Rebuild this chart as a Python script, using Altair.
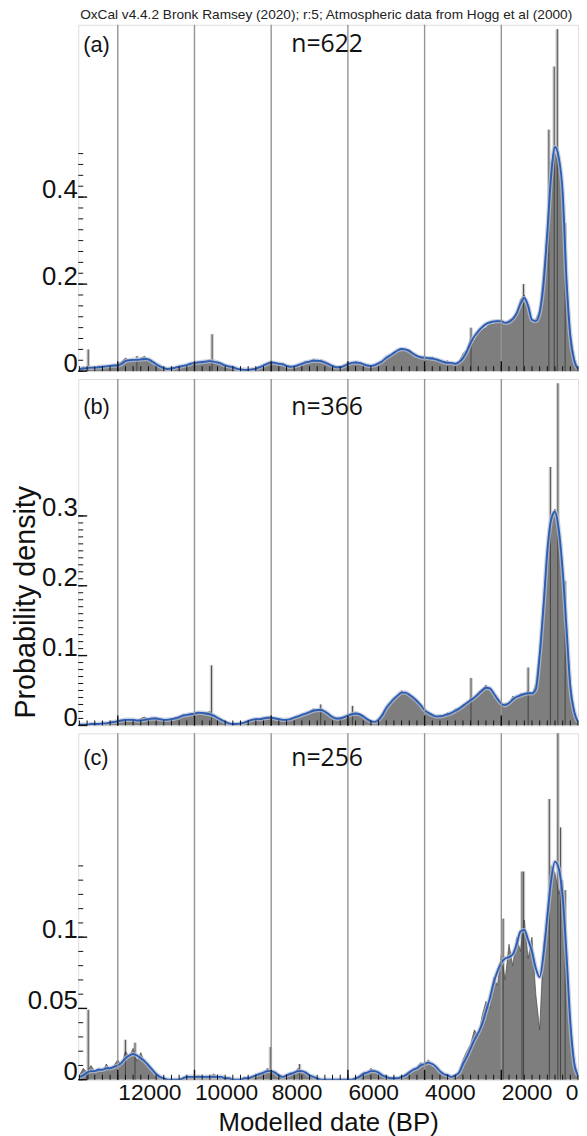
import altair as alt
import pandas as pd

FONT = "Liberation Sans"
W, H = 505, 350
X_MAX = 13030
TITLE = "OxCal v4.4.2 Bronk Ramsey (2020); r:5; Atmospheric data from Hogg et al (2000)"

# 100-year grid, from 13000 BP down to 0 BP
years = list(range(13000, -1, -100))

# ---------------- panel (a) ----------------
kde_a = [0.005,0.006,0.007,0.008,0.008,0.009,0.010,0.011,0.012,0.013,
         0.013,0.017,0.023,0.025,0.026,0.026,0.027,0.028,0.027,0.022,
         0.016,0.011,0.007,0.005,0.006,0.008,0.010,0.012,0.014,0.017,
         0.019,0.020,0.021,0.022,0.023,0.022,0.020,0.017,0.013,0.011,
         0.009,0.006,0.004,0.003,0.003,0.004,0.006,0.009,0.013,0.017,
         0.020,0.019,0.017,0.016,0.012,0.010,0.011,0.014,0.017,0.020,
         0.022,0.024,0.024,0.023,0.020,0.016,0.012,0.009,0.009,0.012,
         0.016,0.019,0.020,0.019,0.016,0.013,0.012,0.014,0.018,0.023,
         0.031,0.036,0.042,0.048,0.051,0.050,0.046,0.040,0.035,0.032,
         0.031,0.030,0.029,0.027,0.024,0.021,0.019,0.019,0.017,0.021,
         0.030,0.045,0.065,0.080,0.092,0.101,0.108,0.112,0.114,0.115,
         0.115,0.111,0.113,0.120,0.133,0.155,0.168,0.150,0.118,0.115,
         0.135,0.200,0.320,0.450,0.515,0.490,0.410,0.210,0.080,0.025,0.005]
sum_a = [0.004,0.010,0.006,0.008,0.007,0.012,0.009,0.011,0.010,0.014,
         0.016,0.022,0.030,0.024,0.028,0.022,0.030,0.034,0.026,0.018,
         0.012,0.008,0.006,0.004,0.006,0.009,0.008,0.012,0.015,0.016,
         0.018,0.022,0.019,0.024,0.026,0.020,0.018,0.015,0.012,0.010,
         0.008,0.006,0.004,0.004,0.003,0.005,0.007,0.010,0.014,0.016,
         0.024,0.018,0.016,0.014,0.012,0.011,0.010,0.014,0.016,0.022,
         0.020,0.028,0.022,0.026,0.018,0.014,0.010,0.008,0.010,0.012,
         0.018,0.016,0.022,0.018,0.014,0.012,0.010,0.013,0.020,0.024,
         0.028,0.034,0.044,0.046,0.052,0.048,0.050,0.042,0.036,0.030,
         0.030,0.028,0.032,0.026,0.022,0.020,0.024,0.016,0.018,0.022,
         0.040,0.050,0.075,0.070,0.088,0.095,0.100,0.110,0.108,0.118,
         0.112,0.108,0.118,0.122,0.135,0.165,0.175,0.145,0.112,0.120,
         0.140,0.230,0.320,0.480,0.500,0.470,0.380,0.220,0.090,0.030,0.005]
spike_a_years = [12770, 11500, 9540, 2790, 1420, 760, 620, 540, 335]
spike_a_vals = [0.050, 0.035, 0.085, 0.100, 0.200, 0.555, 0.700, 0.786, 0.340]

# ---------------- panel (b) ----------------
kde_b = [0.001,0.001,0.001,0.002,0.002,0.002,0.003,0.003,0.004,0.005,
         0.006,0.007,0.008,0.008,0.008,0.007,0.007,0.008,0.009,0.010,
         0.010,0.009,0.008,0.008,0.009,0.010,0.012,0.014,0.015,0.016,
         0.017,0.018,0.018,0.017,0.016,0.014,0.011,0.008,0.005,0.003,
         0.002,0.002,0.003,0.004,0.006,0.008,0.009,0.009,0.010,0.011,
         0.011,0.010,0.009,0.008,0.008,0.009,0.011,0.013,0.015,0.017,
         0.019,0.021,0.022,0.022,0.020,0.016,0.012,0.010,0.010,0.012,
         0.014,0.016,0.017,0.016,0.013,0.009,0.006,0.005,0.008,0.015,
         0.025,0.032,0.038,0.043,0.047,0.047,0.044,0.040,0.035,0.029,
         0.022,0.018,0.015,0.013,0.013,0.014,0.016,0.018,0.021,0.024,
         0.028,0.032,0.036,0.040,0.045,0.050,0.054,0.053,0.046,0.038,
         0.031,0.029,0.032,0.037,0.041,0.043,0.045,0.046,0.046,0.052,
         0.100,0.170,0.250,0.295,0.306,0.280,0.222,0.140,0.055,0.020,0.005]
sum_b = [0.000,0.001,0.001,0.002,0.001,0.002,0.003,0.002,0.004,0.005,
         0.006,0.008,0.007,0.009,0.007,0.006,0.010,0.012,0.008,0.010,
         0.011,0.008,0.007,0.009,0.008,0.012,0.011,0.016,0.014,0.017,
         0.016,0.020,0.017,0.018,0.020,0.013,0.010,0.008,0.006,0.003,
         0.002,0.003,0.002,0.005,0.007,0.006,0.010,0.008,0.011,0.010,
         0.013,0.009,0.010,0.007,0.009,0.008,0.012,0.011,0.016,0.015,
         0.020,0.024,0.020,0.025,0.018,0.017,0.011,0.009,0.012,0.011,
         0.016,0.014,0.019,0.015,0.012,0.008,0.005,0.006,0.010,0.018,
         0.026,0.030,0.040,0.042,0.050,0.045,0.046,0.038,0.036,0.026,
         0.020,0.019,0.014,0.012,0.015,0.013,0.018,0.016,0.024,0.022,
         0.030,0.028,0.040,0.036,0.048,0.052,0.058,0.050,0.044,0.036,
         0.028,0.032,0.030,0.042,0.038,0.046,0.042,0.050,0.044,0.060,
         0.110,0.180,0.240,0.300,0.310,0.270,0.210,0.130,0.060,0.020,0.004]
spike_b_years = [9556, 6710, 5880, 2790, 1300, 720, 525, 335]
spike_b_vals = [0.086, 0.030, 0.028, 0.068, 0.083, 0.370, 0.490, 0.207]

# ---------------- panel (c) ----------------
kde_c = [0.002,0.003,0.005,0.006,0.006,0.007,0.007,0.008,0.008,0.009,
         0.010,0.012,0.015,0.017,0.018,0.017,0.015,0.013,0.010,0.007,
         0.004,0.002,0.001,0.000,0.000,0.000,0.000,0.001,0.002,0.002,
         0.002,0.002,0.002,0.002,0.002,0.002,0.002,0.002,0.001,0.001,
         0.000,0.000,0.000,0.001,0.001,0.002,0.003,0.004,0.005,0.006,
         0.006,0.005,0.003,0.002,0.003,0.004,0.005,0.006,0.006,0.005,
         0.003,0.002,0.001,0.000,0.000,0.000,0.000,0.000,0.000,0.000,
         0.000,0.000,0.001,0.002,0.004,0.005,0.006,0.006,0.005,0.003,
         0.002,0.001,0.001,0.001,0.002,0.003,0.005,0.007,0.008,0.010,
         0.011,0.012,0.011,0.009,0.006,0.004,0.003,0.002,0.003,0.005,
         0.011,0.016,0.022,0.028,0.033,0.039,0.048,0.057,0.068,0.076,
         0.082,0.085,0.086,0.088,0.095,0.104,0.105,0.098,0.090,0.078,
         0.072,0.088,0.115,0.140,0.153,0.148,0.128,0.088,0.040,0.012,0.003]
sum_c = [0.003,0.008,0.005,0.010,0.006,0.008,0.005,0.011,0.007,0.010,
         0.014,0.010,0.020,0.016,0.022,0.013,0.019,0.012,0.011,0.006,
         0.004,0.002,0.001,0.000,0.000,0.000,0.000,0.001,0.002,0.001,
         0.002,0.003,0.002,0.001,0.002,0.004,0.002,0.001,0.000,0.001,
         0.000,0.000,0.000,0.001,0.001,0.001,0.002,0.003,0.004,0.008,
         0.006,0.004,0.002,0.001,0.003,0.005,0.004,0.008,0.005,0.004,
         0.002,0.001,0.000,0.000,0.000,0.000,0.000,0.000,0.000,0.000,
         0.000,0.000,0.001,0.003,0.005,0.004,0.008,0.006,0.005,0.002,
         0.001,0.000,0.001,0.001,0.002,0.004,0.006,0.006,0.009,0.012,
         0.010,0.014,0.009,0.008,0.005,0.003,0.004,0.002,0.003,0.006,
         0.014,0.020,0.025,0.035,0.030,0.045,0.055,0.050,0.072,0.066,
         0.088,0.070,0.095,0.080,0.100,0.090,0.112,0.085,0.100,0.060,
         0.035,0.095,0.110,0.150,0.145,0.130,0.140,0.080,0.040,0.012,0.002]
spike_c_years = [12770, 11800, 11550, 8020, 7260, 1953, 1460, 1420, 748, 525, 457, 335]
spike_c_vals = [0.049, 0.028, 0.026, 0.023, 0.011, 0.113, 0.146, 0.146, 0.197, 0.245, 0.177, 0.133]

# ---------------- axes ----------------
grid_years = [12000, 10000, 8000, 6000, 4000, 2000]
x_minor = list(range(0, 13001, 200))
x_label_values = [12000, 10000, 8000, 6000, 4000, 2000, 0]

XSCALE = alt.Scale(domain=[0, X_MAX], reverse=True, nice=False, zero=False)


def xenc(show):
    if show:
        ax = alt.Axis(values=x_label_values, format="d", ticks=False, domain=False, grid=False,
                      labelFontSize=23, labelFont=FONT, labelColor="#111", labelPadding=2,
                      labelBaseline="top",
                      labelAlign={"condition": {"test": "datum.value == 0", "value": "right"},
                                  "value": "left"},
                      labelFlush=False, labelOverlap=False, labelBound=False,
                      title="Modelled date (BP)", titleFont=FONT, titleFontSize=26,
                      titleFontWeight="normal", titleColor="#111", titlePadding=5)
        return alt.X("year:Q", scale=XSCALE, axis=ax)
    return alt.X("year:Q", scale=XSCALE, axis=None)


def make_yenc(ymax, labels, show_title):
    common = dict(values=labels, format="~g", ticks=False, domain=False, grid=False,
                  labelFontSize=26, labelFont=FONT, labelColor="#111", labelPadding=1,
                  labelBaseline="alphabetic", minExtent=70)
    if show_title:
        ax = alt.Axis(title="Probability density", titleFont=FONT, titleFontSize=29,
                      titleFontWeight="normal", titleColor="#111",
                      titleAngle=270, titleX=-53, titleY=H / 2 + 50,
                      titleAlign="center", titleBaseline="middle", **common)
    else:
        ax = alt.Axis(title=None, **common)

    def f(field):
        return alt.Y(f"{field}:Q", scale=alt.Scale(domain=[0, ymax], nice=False, zero=True), axis=ax)
    return f


def panel(tag, ntext, kde, sm, sp_years, sp_vals, ymax, ylabels, yticks, text_y, show_x, show_title, title=None):
    df = pd.DataFrame({"year": years, "sum": sm, "kde": kde})
    sp = pd.DataFrame({"year": sp_years, "top": sp_vals})
    X = xenc(show_x)
    Y = make_yenc(ymax, ylabels, show_title)

    light = alt.Chart(sp).mark_rule(color="#cccccc", strokeWidth=3.5, clip=True).encode(
        x=X, y=Y("top"), y2=alt.value(H))
    area = alt.Chart(df).mark_area(color="#7e7e7e", opacity=1, clip=True,
                                   line={"color": "#3a3a3a", "strokeWidth": 0.6}).encode(x=X, y=Y("sum"))
    spk = alt.Chart(sp).mark_rule(color="#333333", strokeWidth=0.8, clip=True).encode(
        x=X, y=Y("top"), y2=alt.value(H))
    band = alt.Chart(df).mark_line(color="#b7c2dc", strokeWidth=4.5, opacity=0.7,
                                   interpolate="monotone", clip=True).encode(x=X, y=Y("kde"))
    line = alt.Chart(df).mark_line(color="#2c5db3", strokeWidth=1.9,
                                   interpolate="monotone", clip=True).encode(x=X, y=Y("kde"))
    grid = alt.Chart(pd.DataFrame({"year": grid_years})).mark_rule(
        color="#949494", strokeWidth=1.4).encode(x=X, y=alt.value(0), y2=alt.value(H))
    xt = alt.Chart(pd.DataFrame({"year": x_minor})).mark_rule(color="#111", strokeWidth=1).encode(
        x=X, y=alt.value(H), y2=alt.value(H - 5))
    xtm = alt.Chart(pd.DataFrame({"year": grid_years})).mark_rule(color="#111", strokeWidth=1.4).encode(
        x=X, y=alt.value(H), y2=alt.value(H - 10))
    yt = alt.Chart(pd.DataFrame({"v": yticks})).mark_rule(color="#111", strokeWidth=1).encode(
        y=Y("v"), x=alt.value(0), x2=alt.value(5))
    ytm = alt.Chart(pd.DataFrame({"v": ylabels})).mark_rule(color="#111", strokeWidth=1.4).encode(
        y=Y("v"), x=alt.value(0), x2=alt.value(9))
    t1 = alt.Chart(pd.DataFrame({"t": [tag]})).mark_text(
        align="left", baseline="middle", font=FONT, fontSize=22, color="#111").encode(
        text="t:N", x=alt.value(5), y=alt.value(text_y))
    t2 = alt.Chart(pd.DataFrame({"t": [ntext]})).mark_text(
        align="center", baseline="middle", font="Open Sans", fontSize=25, color="#111").encode(
        text="t:N", x=alt.value(W / 2 - 1), y=alt.value(text_y))
    layers = [light, area, spk, band, line, grid, xt, xtm, yt, ytm, t1, t2]
    if title:
        layers.append(alt.Chart(pd.DataFrame({"t": [title]})).mark_text(
            align="center", baseline="middle", font=FONT, fontSize=13.8, color="#222").encode(
            text="t:N", x=alt.value(W / 2 - 2), y=alt.value(-10)))
    return alt.layer(*layers).properties(width=W, height=H)


yt_a = [round(i * 0.025, 3) for i in range(21)]
yt_b = [round(i * 0.01, 2) for i in range(31)]
yt_c = [round(i * 0.01, 2) for i in range(16)]

pa = panel("(a)", "n=622", kde_a, sum_a, spike_a_years, spike_a_vals, 0.796, [0, 0.2, 0.4], yt_a, 20, False, False, TITLE)
pb = panel("(b)", "n=366", kde_b, sum_b, spike_b_years, spike_b_vals, 0.496, [0, 0.1, 0.2, 0.3], yt_b, 28, False, True)
pc = panel("(c)", "n=256", kde_c, sum_c, spike_c_years, spike_c_vals, 0.243, [0, 0.05, 0.1], yt_c, 25, True, False)

chart = alt.vconcat(pa, pb, pc, spacing=0).properties(
    padding={"left": 0, "top": -7, "right": 0, "bottom": 0},
).configure_view(stroke="#111", strokeWidth=1.6).configure(background="white")

chart.save("out.html", embed_options={"renderer": "svg", "actions": False})
